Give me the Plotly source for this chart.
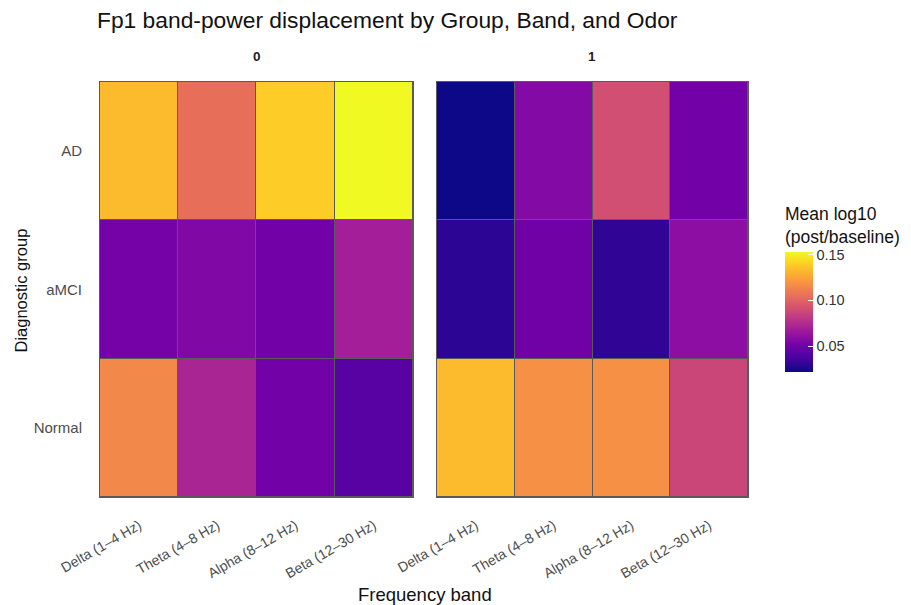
import plotly.graph_objects as go

bands = ["Delta (1–4 Hz)", "Theta (4–8 Hz)", "Alpha (8–12 Hz)", "Beta (12–30 Hz)"]
groups = ["Normal", "aMCI", "AD"]  # bottom to top
odors = ["0", "1"]

# mean log10(post/baseline) per odor, group, band
odor0_normal = [0.115, 0.072, 0.051, 0.043]
odor0_amci = [0.052, 0.056, 0.051, 0.069]
odor0_ad = [0.133, 0.105, 0.139, 0.153]
odor1_normal = [0.133, 0.118, 0.118, 0.087]
odor1_amci = [0.030, 0.050, 0.031, 0.060]
odor1_ad = [0.022, 0.057, 0.091, 0.051]

z0 = [odor0_normal, odor0_amci, odor0_ad]
z1 = [odor1_normal, odor1_amci, odor1_ad]
allv = [v for row in z0 + z1 for v in row]
vmin, vmax = min(allv), max(allv)

FONT = "Liberation Sans, Arial, sans-serif"
W, H = 911, 605
L, R, T, B = 100, 748, 82, 497   # panel area in page pixels
PW, PH = R - L, B - T

def px(x):
    return (x - L) / PW

def py(y):
    return (B - y) / PH

fig = go.Figure()
for i, z in enumerate([z0, z1]):
    fig.add_trace(go.Heatmap(
        z=z, x=bands, y=groups, coloraxis="coloraxis",
        xgap=1, ygap=1,
        xaxis="x" if i == 0 else "x2", yaxis="y" if i == 0 else "y2",
        hovertemplate="%{y}<br>%{x}<br>%{z:.3f}<extra></extra>",
    ))

axcommon = dict(showgrid=False, zeroline=False, showline=True, mirror=True,
                linecolor="#5a5a5a", linewidth=1, ticks="",
                tickfont=dict(family=FONT, size=14, color="#4d4d4d"))
fig.update_layout(
    width=W, height=H,
    margin=dict(l=L, r=W - R, t=T, b=H - B, autoexpand=False),
    paper_bgcolor="white", plot_bgcolor="#5a5a5a",
    font=dict(family=FONT, color="#222"),
    title=dict(text="Fp1 band-power displacement by Group, Band, and Odor",
               x=97 / W, xanchor="left", y=1 - 20 / H, yanchor="middle",
               font=dict(size=22.8, color="#111", family=FONT)),
    xaxis=dict(domain=[0, 0.483], tickangle=-30, categoryorder="array",
               categoryarray=bands, ticklabelstandoff=14, **axcommon),
    xaxis2=dict(domain=[0.52, 1], tickangle=-30, categoryorder="array",
                categoryarray=bands, ticklabelstandoff=14, **axcommon),
    yaxis=dict(categoryorder="array", categoryarray=groups, ticklabelstandoff=14,
               **{**axcommon, "tickfont": dict(family=FONT, size=15, color="#4d4d4d")}),
    yaxis2=dict(categoryorder="array", categoryarray=groups, anchor="x2",
                showticklabels=False, **axcommon),
    coloraxis=dict(
        colorscale="Plasma", cmin=vmin, cmax=vmax,
        colorbar=dict(
            title=dict(text="Mean log10<br>(post/baseline)", side="top",
                       font=dict(size=17.5, color="#111", family=FONT)),
            x=px(785), xanchor="left", xpad=0,
            y=py(288), yanchor="middle",
            len=188 / PH, lenmode="fraction", thickness=28, ypad=10,
            outlinewidth=0, tickvals=[0.05, 0.10, 0.15],
            ticktext=["0.05", "0.10", "0.15"], ticks="inside",
            tickcolor="white", ticklen=5,
            tickfont=dict(size=14.5, color="#333", family=FONT),
        ),
    ),
    annotations=[
        dict(text="<b>0</b>", x=px(257), y=py(57), xref="paper", yref="paper",
             xanchor="center", yanchor="middle",
             showarrow=False, font=dict(size=13.5, color="#222", family=FONT)),
        dict(text="<b>1</b>", x=px(592), y=py(57), xref="paper", yref="paper",
             xanchor="center", yanchor="middle",
             showarrow=False, font=dict(size=13.5, color="#222", family=FONT)),
        dict(text="Frequency band", x=px(425), y=py(594), xref="paper", yref="paper",
             showarrow=False, xanchor="center", yanchor="middle",
             font=dict(size=18.5, color="#111", family=FONT)),
        dict(text="Diagnostic group", x=px(20), y=py(290.5), xref="paper", yref="paper",
             showarrow=False, textangle=-90, xanchor="center", yanchor="middle",
             font=dict(size=16.5, color="#111", family=FONT)),
    ],
)
fig.write_html(
    "out.html",
    config={"displayModeBar": False},
    post_script="document.body.style.margin='0';document.body.style.overflow='hidden';",
)
